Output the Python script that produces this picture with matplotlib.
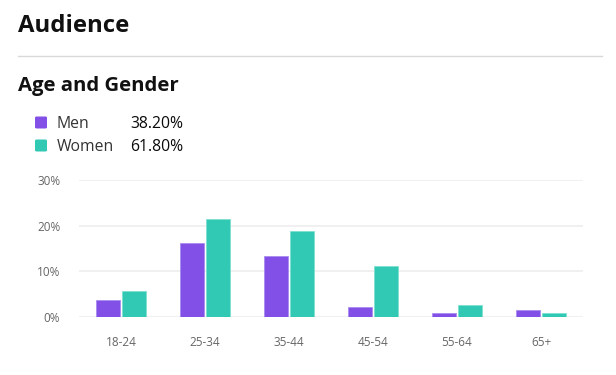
import matplotlib
matplotlib.use("Agg")
import matplotlib.pyplot as plt
import numpy as np
from matplotlib.lines import Line2D

categories = ["18-24", "25-34", "35-44", "45-54", "55-64", "65+"]
men = [3.7, 16.1, 13.3, 2.1, 0.9, 1.4]
women = [5.7, 21.5, 18.8, 11.2, 2.6, 0.9]
yticks = [0, 10, 20, 30]
legend_labels = ["Men", "Women"]
legend_values = ["38.20%", "61.80%"]

PURPLE = "#8250e6"
TEAL = "#31c8b4"
FONT = ["Open Sans", "DejaVu Sans"]

plt.rcParams["font.family"] = FONT

fig = plt.figure(figsize=(6.16, 3.75), dpi=100)
W, H = 616, 375

def fx(x):
    return x / W

def fy(y):
    return 1 - y / H

# Header texts
fig.text(fx(18), fy(31.5), "Audience", fontsize=17.2, fontweight="bold",
         color="#111111", va="baseline", ha="left")
fig.add_artist(Line2D([fx(18), fx(602)], [fy(56), fy(56)], color="#d9d9d9", lw=1.0))
fig.text(fx(18), fy(90.5), "Age and Gender", fontsize=14.7, fontweight="bold",
         color="#111111", va="baseline", ha="left")

# Legend
colors = [PURPLE, TEAL]
for i, (lab, val, c) in enumerate(zip(legend_labels, legend_values, colors)):
    yc = 122.5 + i * 23
    fig.patches.append(matplotlib.patches.FancyBboxPatch(
        (fx(35), fy(yc + 6)), fx(12), 12 / H,
        boxstyle="round,pad=0,rounding_size=0.003", transform=fig.transFigure,
        facecolor=c, edgecolor="none", figure=fig))
    fig.text(fx(57), fy(yc + 5.5), lab, fontsize=11.3, color="#333333",
             va="baseline", ha="left")
    fig.text(fx(183), fy(yc + 5.5), val, fontsize=11.3, color="#0a0a0a",
             va="baseline", ha="right")

# Axes
ax = fig.add_axes([fx(79), fy(316.7), fx(583 - 79), (316.7 - 180) / H])
x = np.arange(len(categories))
w = 0.29
off = 0.152
ax.bar(x - off, men, width=w, color=PURPLE, edgecolor="#a98cf0", linewidth=0.6, zorder=3)
ax.bar(x + off, women, width=w, color=TEAL, edgecolor="#7fe0d2", linewidth=0.6, zorder=3)

ax.set_xlim(-0.5, len(categories) - 0.5)
ax.set_ylim(0, 30)
ax.set_yticks(yticks)
ax.set_yticklabels([f"{t}%" for t in yticks])
ax.set_xticks(x)
ax.set_xticklabels(categories)
ax.tick_params(axis="both", length=0, labelsize=8.5, labelcolor="#666666")
ax.tick_params(axis="x", pad=14)
ax.tick_params(axis="y", pad=13.5)
ax.grid(axis="y", color="#eeeeee", linewidth=1.2, zorder=0)
for s in ax.spines.values():
    s.set_visible(False)
ax.set_facecolor("white")

fig.savefig("out.png", dpi=100, facecolor="white")
